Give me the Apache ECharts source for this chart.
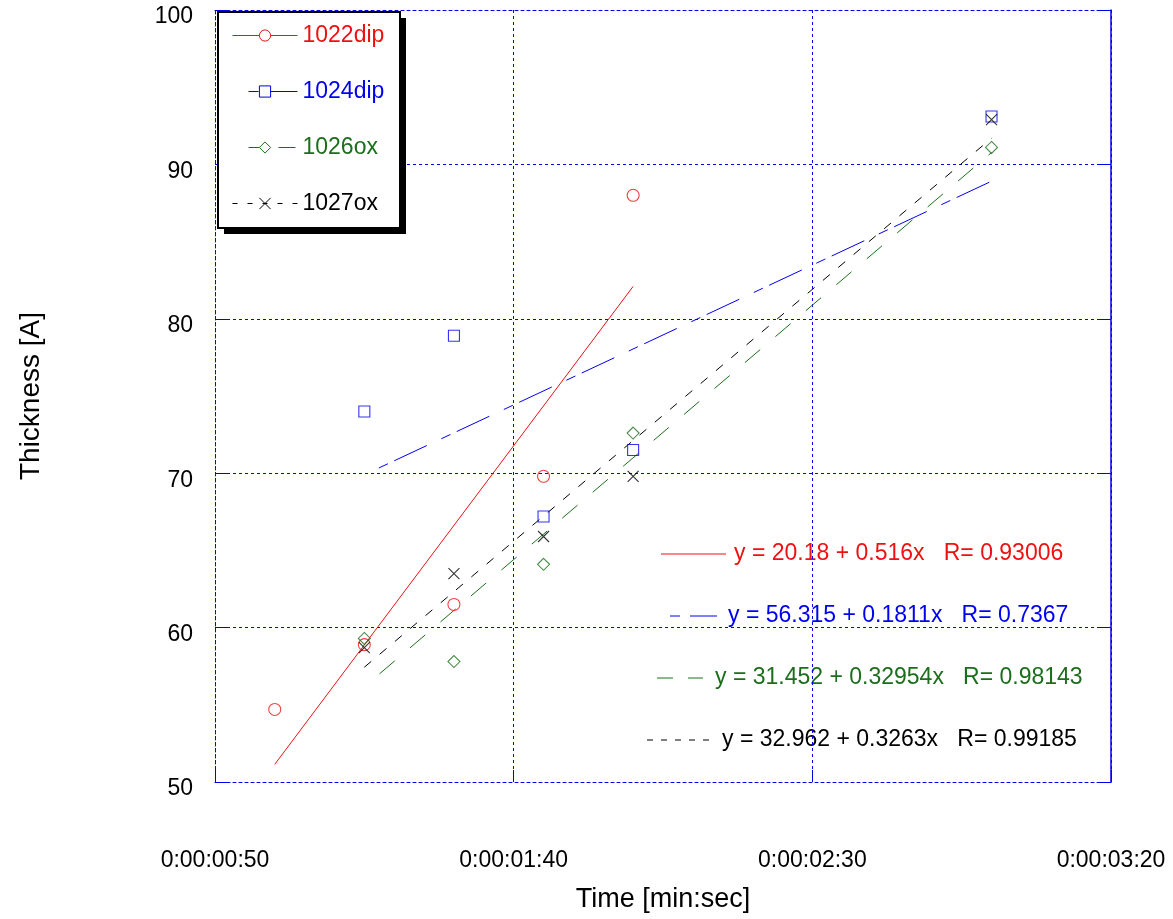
<!DOCTYPE html>
<html>
<head>
<meta charset="utf-8">
<script src="https://cdn.jsdelivr.net/npm/echarts@6/dist/echarts.min.js"></script>
<style>
  html, body { margin: 0; padding: 0; background: #fff; }
  #chart { width: 1173px; height: 919px; }
</style>
</head>
<body>
<div id="chart"></div>
<script>
// values (time in seconds, thickness in A)
const seriesNames = ['1022dip', '1024dip', '1026ox', '1027ox']
const times1022 = [60, 75, 90, 105, 120]
const thick1022 = [54.7, 58.9, 61.5, 69.8, 88.0]
const times1024 = [75, 90, 105, 120, 180]
const thick1024 = [74.0, 78.9, 67.2, 71.5, 93.1]
const times1026 = [75, 90, 105, 120, 180]
const thick1026 = [59.3, 57.8, 64.1, 72.6, 91.1]
const times1027 = [75, 90, 105, 120, 180]
const thick1027 = [58.7, 63.5, 65.9, 69.8, 92.9]

// linear fits printed on the chart
const fitIntercepts = [20.18, 56.315, 31.452, 32.962]
const fitSlopes = [0.516, 0.1811, 0.32954, 0.3263]
const fitR = [0.93006, 0.7367, 0.98143, 0.99185]

const xTickValues = [50, 100, 150, 200]
const xTickLabels = ['0:00:00:50', '0:00:01:40', '0:00:02:30', '0:00:03:20']

const allTimes = [times1022, times1024, times1026, times1027]
const allThick = [thick1022, thick1024, thick1026, thick1027]

const colors = ['#ee1111', '#0000ee', '#1b6e1b', '#000000']
const symbols = ['circle', 'rect', 'diamond', 'path://M0,0L10,10M10,0L0,10']
const symbolSizes = [12, 11, 12, 11]
const fitDash = [
  { type: 'solid', offset: 0 },
  { type: [10, 7, 36, 16], offset: 53 },
  { type: [20, 20], offset: 20 },
  { type: [9, 11], offset: 0 }
]
// dash used for the little line in the legend box
const legendDash = [
  { type: 'solid', offset: 0 },
  { type: [10, 7, 36, 16], offset: 53 },
  { type: [11, 19, 17, 16], offset: 47 },
  { type: [5, 10], offset: 0 }
]
const FONT = '"Liberation Sans", Arial, sans-serif'

const chart = echarts.init(document.getElementById('chart'), null, { renderer: 'canvas' })

const series = []
seriesNames.forEach((name, i) => {
  const xs = allTimes[i]
  const x0 = Math.min(...xs)
  const x1 = Math.max(...xs)
  const fit = (x) => fitIntercepts[i] + fitSlopes[i] * x
  series.push({
    name,
    type: 'line',
    data: [[x0, fit(x0)], [x1, fit(x1)]],
    symbol: symbols[i],
    symbolSize: symbolSizes[i],
    showSymbol: false,
    silent: true,
    color: colors[i],
    lineStyle: {
      color: colors[i],
      width: 1,
      type: fitDash[i].type,
      dashOffset: fitDash[i].offset
    },
    z: 2
  })
  series.push({
    name,
    type: 'scatter',
    data: xs.map((x, k) => [x, allThick[i][k]]),
    symbol: symbols[i],
    symbolSize: symbolSizes[i],
    itemStyle: { color: 'rgba(0,0,0,0)', borderColor: colors[i], borderWidth: 1.1 },
    z: 3
  })
})

const eqRows = [
  { x0: 661, x1: 726, tx: 734, y: 554, dash: null },
  { x0: 670, x1: 717, tx: 728, y: 616, dash: [10, 10, 30, 4] },
  { x0: 657, x1: 703, tx: 715, y: 678, dash: [16, 15] },
  { x0: 647, x1: 713, tx: 722, y: 740, dash: [6, 8] }
]

const graphic = [
  // legend frame with its solid drop shadow
  { type: 'rect', shape: { x: 224, y: 18, width: 182, height: 216 }, style: { fill: '#000' }, z: 10, silent: true },
  { type: 'rect', shape: { x: 218, y: 12, width: 182, height: 216 }, style: { fill: '#fff', stroke: '#000', lineWidth: 2 }, z: 11, silent: true }
]
eqRows.forEach((r, i) => {
  graphic.push({
    type: 'line',
    shape: { x1: r.x0, y1: r.y, x2: r.x1, y2: r.y },
    style: { stroke: colors[i], lineWidth: 1, lineDash: r.dash },
    silent: true
  })
  graphic.push({
    type: 'text',
    x: r.tx,
    y: r.y,
    style: {
      text: 'y = ' + fitIntercepts[i] + ' + ' + fitSlopes[i] + 'x   R= ' + fitR[i],
      fill: colors[i],
      font: '23px ' + FONT,
      verticalAlign: 'middle'
    },
    silent: true
  })
})

const gridBlue = '#0000ee'

chart.setOption({
  animation: false,
  backgroundColor: '#fff',
  textStyle: { fontFamily: FONT },
  grid: { left: 215, right: 62, top: 10, bottom: 137 },
  legend: {
    orient: 'vertical',
    left: 218,
    top: 12,
    padding: [12, 17, 12, 14],
    itemWidth: 65,
    itemHeight: 14,
    itemGap: 33,
    z: 20,
    selectedMode: false,
    data: seriesNames.map((name, i) => ({
      name,
      itemStyle: { color: '#fff', borderColor: colors[i], borderWidth: 1 },
      lineStyle: { color: colors[i], width: 1, type: legendDash[i].type, dashOffset: legendDash[i].offset },
      textStyle: { color: colors[i], fontSize: 23, fontFamily: FONT }
    }))
  },
  xAxis: [
    {
      type: 'value',
      min: 50,
      max: 200,
      interval: 50,
      name: 'Time [min:sec]',
      nameLocation: 'middle',
      nameGap: 104,
      nameTextStyle: { fontSize: 27, color: '#000', fontFamily: FONT },
      axisLine: { lineStyle: { color: gridBlue, width: 1, type: [3, 3] } },
      axisTick: { inside: true, length: 12, lineStyle: { color: gridBlue } },
      axisLabel: {
        margin: 67,
        fontSize: 23,
        color: '#000',
        fontFamily: FONT,
        formatter: (v) => xTickLabels[xTickValues.indexOf(v)] || ''
      },
      splitLine: { show: true, lineStyle: { color: gridBlue, width: 1, type: [3, 3] } }
    },
    {
      type: 'value',
      position: 'top',
      min: 50,
      max: 200,
      interval: 50,
      axisLine: { show: true, lineStyle: { color: gridBlue, width: 1, type: [3, 3] } },
      axisTick: { show: false },
      axisLabel: { show: false },
      splitLine: { show: false }
    }
  ],
  yAxis: [
    {
      type: 'value',
      min: 50,
      max: 100,
      interval: 10,
      name: 'Thickness [A]',
      nameLocation: 'middle',
      nameRotate: 90,
      nameGap: 170,
      nameTextStyle: { fontSize: 28, color: '#000', fontFamily: FONT },
      axisLine: { show: true, lineStyle: { color: gridBlue, width: 1, type: [3, 3] } },
      axisTick: { show: true, inside: true, length: 12, lineStyle: { color: gridBlue } },
      axisLabel: {
        margin: 22,
        fontSize: 23,
        color: '#000',
        fontFamily: FONT,
        verticalAlign: 'top',
        lineHeight: 14
      },
      splitLine: { show: true, lineStyle: { color: gridBlue, width: 1, type: [3, 3] } }
    },
    {
      type: 'value',
      position: 'right',
      min: 50,
      max: 100,
      interval: 10,
      axisLine: { show: true, lineStyle: { color: gridBlue, width: 1.5 } },
      axisTick: { show: true, inside: true, length: 12, lineStyle: { color: gridBlue } },
      axisLabel: { show: false },
      splitLine: { show: false }
    }
  ],
  graphic,
  series
})
</script>
</body>
</html>
